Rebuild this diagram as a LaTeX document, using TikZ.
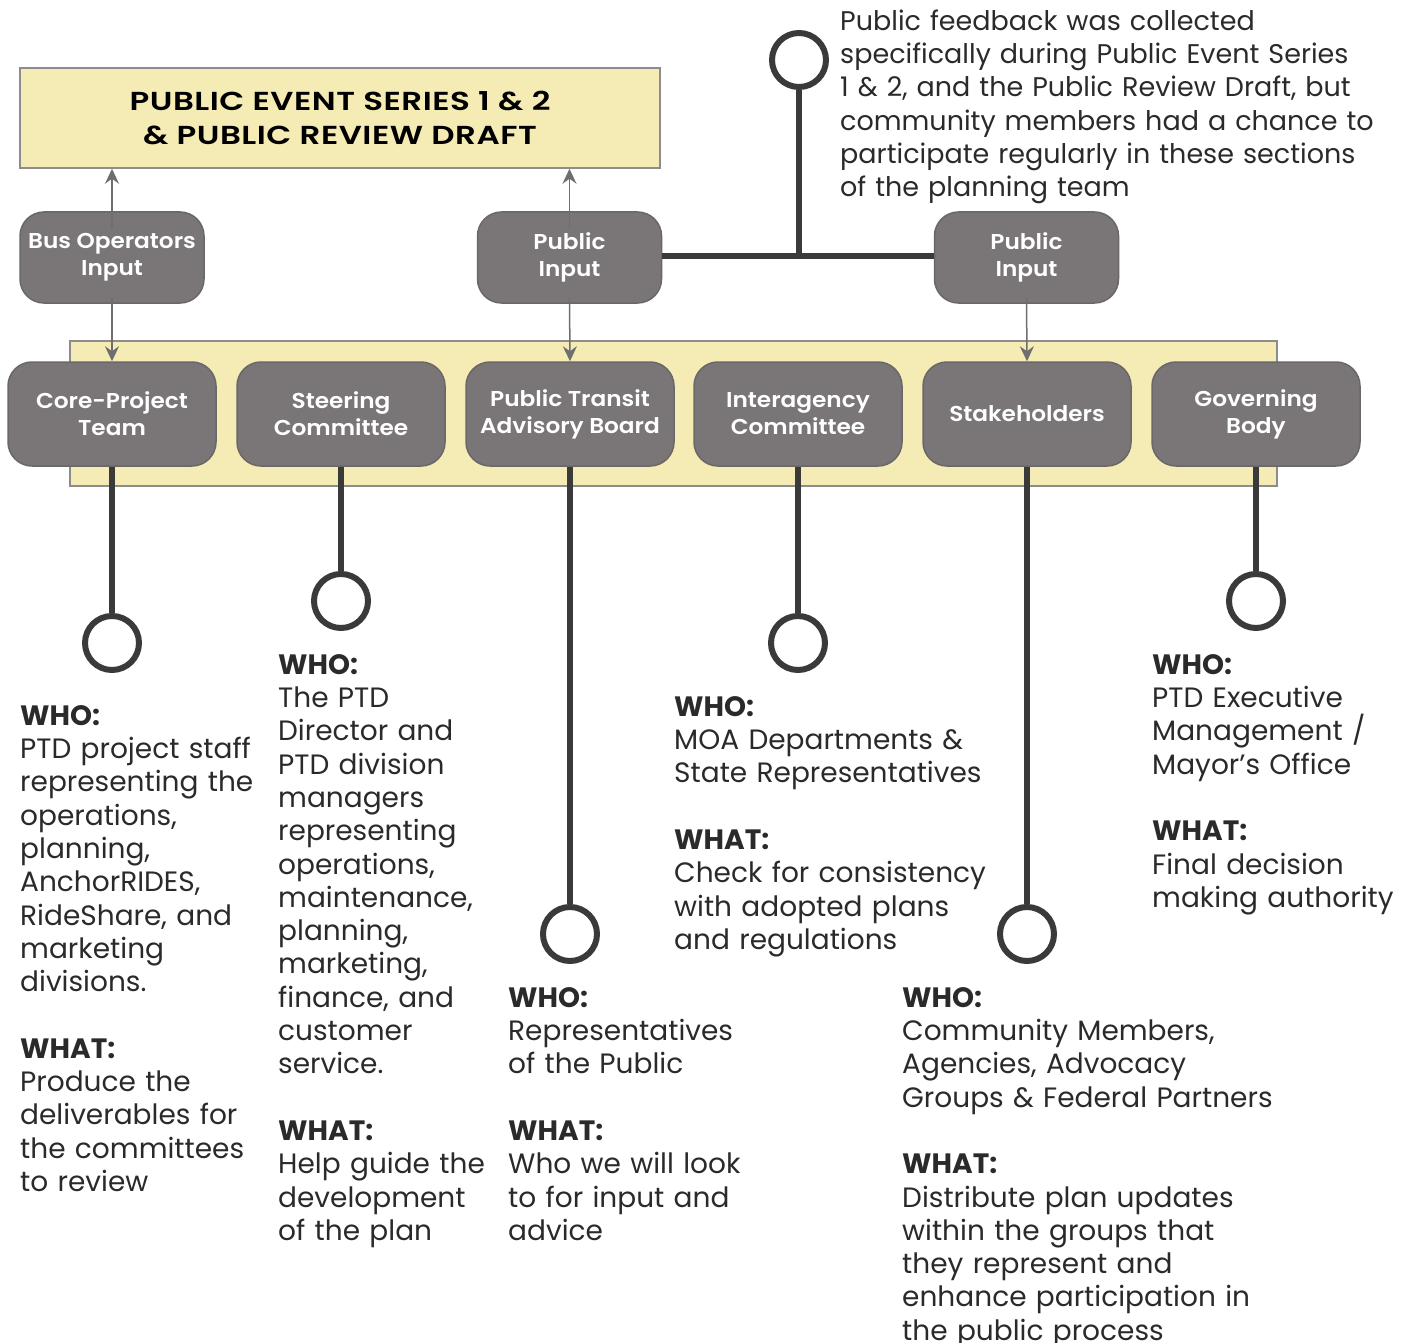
\documentclass[tikz,border=0pt]{standalone}
\usepackage{fontspec}
\setmainfont{Poppins}
\newfontfamily\semib{Poppins SemiBold}[FakeStretch=1.08]
\newfontfamily\titlef{Poppins SemiBold}[FakeStretch=1.25,LetterSpace=2]
\usetikzlibrary{arrows.meta}
\definecolor{bandyellow}{HTML}{F5EBB5}
\definecolor{bandedge}{HTML}{8C8C8C}
\definecolor{boxgray}{HTML}{7A7677}
\definecolor{boxedge}{HTML}{6A6768}
\definecolor{darkline}{HTML}{3A3A3A}
\definecolor{arrowgray}{HTML}{6E6E6E}
\definecolor{txt}{HTML}{2A2A2A}
\begin{document}
\begin{tikzpicture}[x=1pt,y=-1pt,
  band/.style={draw=bandedge, fill=bandyellow, line width=1.5pt},
  gbox/.style={draw=boxedge, fill=boxgray, line width=1.5pt, rounded corners=24pt,
    minimum width=208pt, minimum height=104pt, inner sep=0pt, text=white,
    align=center, font=\semib\fontsize{21.5}{27}\selectfont},
  inbox/.style={gbox, minimum width=184pt, minimum height=91pt},
  ring/.style={circle, draw=darkline, line width=6pt, minimum size=54pt, inner sep=0pt, fill=white},
  stem/.style={draw=darkline, line width=6pt},
  feed/.style={draw=arrowgray, line width=1.5pt, -{Stealth[length=15pt,width=14pt,inset=5pt]}},
  para/.style={anchor=north west, inner sep=0pt, text width=640pt, align=left, text=txt,
    font=\fontsize{28}{33.3}\selectfont}
]
\useasboundingbox (0,0) rectangle (1409,1343);

% top title box
\node[band, minimum width=640pt, minimum height=100pt, inner sep=0pt, align=center,
  font=\titlef\fontsize{26}{34}\selectfont, text=black] (title) at (340,118) {PUBLIC EVENT SERIES 1 \& 2\\ \& PUBLIC REVIEW DRAFT};

% yellow band
\node[band, minimum width=1207pt, minimum height=145pt, inner sep=0pt] (bandrow) at (673.5,413.5) {};

% input boxes
\node[inbox] (bus) at (112,257.5) {Bus Operators\\Input};
\node[inbox] (pubA) at (569.5,257.5) {Public\\Input};
\node[inbox] (pubB) at (1026.5,257.5) {Public\\Input};

% committee boxes
\node[gbox] (core) at (112,414) {Core-Project\\Team};
\node[gbox] (steer) at (341,414) {Steering\\Committee};
\node[gbox] (ptab) at (570,414) {Public Transit\\Advisory Board};
\node[gbox] (inter) at (798,414) {Interagency\\Committee};
\node[gbox] (stake) at (1027,414) {Stakeholders};
\node[gbox] (gov) at (1256,414) {Governing\\Body};

% feed arrows
\draw[feed] ([yshift=-18pt]bus.north) -- (bus.north |- title.south);
\draw[feed] ([yshift=-18pt]pubA.north) -- (pubA.north |- title.south);
\draw[feed] ([yshift=6pt]bus.south) -- (core.north);
\draw[feed] ([yshift=6pt]pubA.south) -- (ptab.north);
\draw[feed] ([yshift=6pt]pubB.south) -- (stake.north);

% top pin
\node[ring] (pin) at (799,60) {};
\coordinate (junc) at (799,256);
\draw[stem] (pubA.east |- junc) -- (pubB.west |- junc);
\draw[stem] (pin.south) -- (junc);

% rings under committees
\node[ring] (rcore) at (112,643) {};
\node[ring] (rsteer) at (341,601) {};
\node[ring] (rptab) at (570,934) {};
\node[ring] (rinter) at (798,643) {};
\node[ring] (rstake) at (1027,934) {};
\node[ring] (rgov) at (1256,601) {};
\draw[stem] (core.south) -- (rcore.north);
\draw[stem] (steer.south) -- (rsteer.north);
\draw[stem] (ptab.south) -- (rptab.north);
\draw[stem] (inter.south) -- (rinter.north);
\draw[stem] (stake.south) -- (rstake.north);
\draw[stem] (gov.south) -- (rgov.north);

% text blocks
\node[para, font=\fontsize{27}{33.3}\selectfont] (ttop) at (840,6.7) {\strut Public feedback was collected\\specifically during Public Event Series\\1 \& 2, and the Public Review Draft, but\\community members had a chance to\\participate regularly in these sections\\of the planning team};

\node[para] (tcore) at (20,701.7) {\strut\textbf{WHO:}\\PTD project staff\\representing the\\operations,\\planning,\\AnchorRIDES,\\RideShare, and\\marketing\\divisions.\\[33.3pt]\textbf{WHAT:}\\Produce the\\deliverables for\\the committees\\to review};

\node[para] (tsteer) at (278,650.7) {\strut\textbf{WHO:}\\The PTD\\Director and\\PTD division\\managers\\representing\\operations,\\maintenance,\\planning,\\marketing,\\finance, and\\customer\\service.\\[33.3pt]\textbf{WHAT:}\\Help guide the\\development\\of the plan};

\node[para] (tptab) at (508,983.7) {\strut\textbf{WHO:}\\Representatives\\of the Public\\[33.3pt]\textbf{WHAT:}\\Who we will look\\to for input and\\advice};

\node[para] (tinter) at (674,692.7) {\strut\textbf{WHO:}\\MOA Departments \&\\State Representatives\\[33.3pt]\textbf{WHAT:}\\Check for consistency\\with adopted plans\\and regulations};

\node[para] (tstake) at (902,983.7) {\strut\textbf{WHO:}\\Community Members,\\Agencies, Advocacy\\Groups \& Federal Partners\\[33.3pt]\textbf{WHAT:}\\Distribute plan updates\\within the groups that\\they represent and\\enhance participation in\\the public process};

\node[para] (tgov) at (1152,650.7) {\strut\textbf{WHO:}\\PTD Executive\\Management /\\Mayor’s Office\\[33.3pt]\textbf{WHAT:}\\Final decision\\making authority};
\end{tikzpicture}
\end{document}
